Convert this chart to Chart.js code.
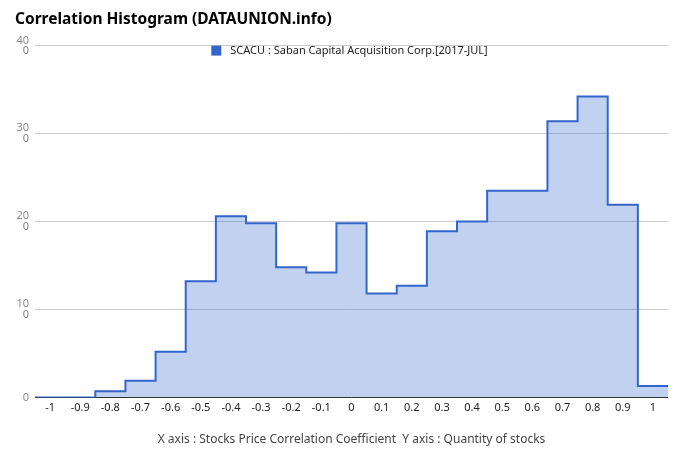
<!DOCTYPE html>
<html>
<head>
<meta charset="utf-8">
<script src="https://cdn.jsdelivr.net/npm/chart.js@4/dist/chart.umd.min.js"></script>
<style>
  html, body { margin: 0; padding: 0; background: #fff; }
  #wrap { width: 680px; height: 462px; position: relative; }
</style>
</head>
<body>
<div id="wrap"><canvas id="hist"></canvas></div>
<script>
'use strict';

/* ─── Data ─── */
const binCenters = [-1, -0.9, -0.8, -0.7, -0.6, -0.5, -0.4, -0.3, -0.2, -0.1, 0,
                    0.1, 0.2, 0.3, 0.4, 0.5, 0.6, 0.7, 0.8, 0.9, 1];
const counts     = [0, 0, 7, 19, 52, 132, 206, 198, 148, 142, 198,
                    118, 127, 189, 200, 235, 235, 314, 342, 219, 13];
const xTickLabels = ['-1', '-0.9', '-0.8', '-0.7', '-0.6', '-0.5', '-0.4', '-0.3', '-0.2', '-0.1', '0',
                     '0.1', '0.2', '0.3', '0.4', '0.5', '0.6', '0.7', '0.8', '0.9', '1'];
const yTicks      = [0, 100, 200, 300, 400];
// the reference wraps the 3-digit labels onto two lines
const yTickLabels = ['0', ['10', '0'], ['20', '0'], ['30', '0'], ['40', '0']];

const seriesLabel = 'SCACU : Saban Capital Acquisition Corp.[2017-JUL]';
const titleText   = 'Correlation Histogram (DATAUNION.info)';
const axisCaption = 'X axis : Stocks Price Correlation Coefficient  Y axis : Quantity of stocks';

const HALF_BIN = 0.05;
const FONT = "'Noto Sans', 'Noto Sans CJK KR', sans-serif";
const LINE_BLUE = '#3366cc';

/* ─── Step points: one at each bin's left edge, plus the closing edge ─── */
const points = binCenters.map((c, i) => ({ x: c - HALF_BIN, y: counts[i] }));
points.push({ x: binCenters[binCenters.length - 1] + HALF_BIN, y: counts[counts.length - 1] });

/* ─── Legend drawn inside the plot, centred under the top gridline ─── */
const insideLegend = {
  id: 'insideLegend',
  afterDraw(chart) {
    const { ctx, chartArea } = chart;
    const label = chart.data.datasets[0].label;
    ctx.save();
    ctx.font = '11px ' + FONT;
    const box = 10, gap = 9;
    const total = box + gap + ctx.measureText(label).width;
    const x0 = (chartArea.left + chartArea.right) / 2 - total / 2 - 2;
    const yMid = chartArea.top + 5;
    ctx.fillStyle = LINE_BLUE;
    ctx.fillRect(x0, yMid - box / 2, box, box);
    ctx.fillStyle = '#222';
    ctx.textBaseline = 'middle';
    ctx.textAlign = 'left';
    ctx.fillText(label, x0 + box + gap, yMid);
    ctx.restore();
  }
};

new Chart(document.getElementById('hist'), {
  type: 'line',
  data: {
    datasets: [{
      label: seriesLabel,
      data: points,
      stepped: true,
      borderColor: LINE_BLUE,
      borderWidth: 2,
      backgroundColor: 'rgba(51,102,204,0.3)',
      fill: 'origin',
      pointRadius: 0,
      pointHoverRadius: 0
    }]
  },
  options: {
    responsive: true,
    maintainAspectRatio: false,
    animation: false,
    layout: { padding: { left: 15, right: 12, top: 0, bottom: 15 } },
    plugins: {
      title: {
        display: true,
        text: titleText,
        align: 'start',
        color: '#000',
        font: { family: FONT, size: 15.5, weight: 'bold' },
        padding: { top: 10, bottom: 17 }
      },
      legend: { display: false },
      tooltip: { enabled: false }
    },
    scales: {
      x: {
        type: 'linear',
        min: binCenters[0] - HALF_BIN,
        max: binCenters[binCenters.length - 1] + HALF_BIN,
        afterBuildTicks: (scale) => { scale.ticks = binCenters.map(v => ({ value: v })); },
        ticks: {
          autoSkip: false,
          maxRotation: 0,
          color: '#222',
          font: { family: FONT, size: 11 },
          padding: 4,
          callback: (v, i) => xTickLabels[i]
        },
        grid: { display: false, drawTicks: false },
        border: { display: false },
        title: {
          display: true,
          text: axisCaption,
          color: '#444',
          font: { family: FONT, size: 12 },
          padding: { top: 14, bottom: 0 }
        }
      },
      y: {
        min: 0,
        max: 400,
        afterBuildTicks: (scale) => { scale.ticks = yTicks.map(v => ({ value: v })); },
        afterFit: (scale) => { scale.width = 20; },
        ticks: {
          color: '#888',
          font: { family: FONT, size: 11, lineHeight: 0.95 },
          padding: 6,
          callback: (v, i) => yTickLabels[i]
        },
        grid: {
          color: (ctx) => ctx.tick && ctx.tick.value === 0 ? '#333' : '#ccc',
          lineWidth: 1,
          drawTicks: false
        },
        border: { display: false }
      }
    }
  },
  plugins: [insideLegend]
});
</script>
</body>
</html>
